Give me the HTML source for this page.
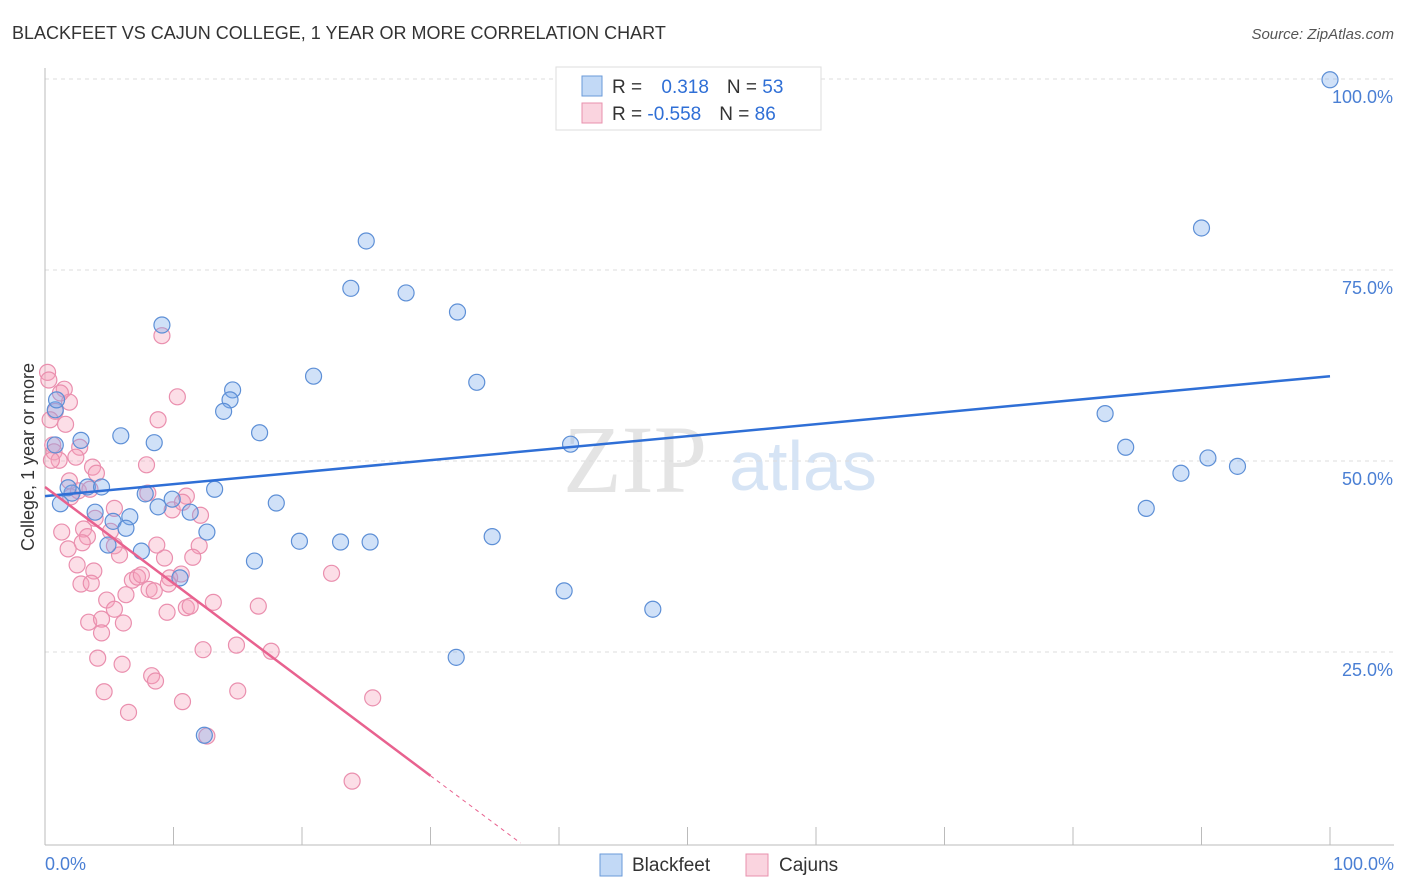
<!DOCTYPE html>
<html><head><meta charset="utf-8"><style>
body{margin:0;background:#fff;font-family:"Liberation Sans",sans-serif;}
#wrap{position:relative;width:1406px;height:892px;overflow:hidden;}
</style></head><body>
<div id="wrap">
<svg id="svg" width="1406" height="892" xmlns="http://www.w3.org/2000/svg">
<text x="12" y="39" font-size="18" fill="#333">BLACKFEET VS CAJUN COLLEGE, 1 YEAR OR MORE CORRELATION CHART</text>
<text x="1394" y="39" font-size="15" fill="#555" font-style="italic" text-anchor="end">Source: ZipAtlas.com</text>
<text x="635" y="492" font-size="96" fill="#e4e4e4" font-family="Liberation Serif,serif" text-anchor="middle">ZIP</text>
<text x="803" y="490" font-size="70" fill="#d6e4f5" text-anchor="middle">atlas</text>
<g id="grid"></g><g id="pts"></g><g id="lines"></g>
<text transform="translate(34,457) rotate(-90)" font-size="18" fill="#333" text-anchor="middle">College, 1 year or more</text>
<text x="45" y="870" font-size="18" fill="#4a7fd4">0.0%</text>
<text x="1394" y="870" font-size="18" fill="#4a7fd4" text-anchor="end">100.0%</text>
<g>
<rect x="556" y="67" width="265" height="63" fill="#fff" stroke="#ddd"/>
<rect x="582" y="76" width="20" height="20" fill="rgba(120,170,235,0.45)" stroke="#6a9ad8"/>
<rect x="582" y="103" width="20" height="20" fill="rgba(245,160,185,0.45)" stroke="#e891ad"/>
<text x="612" y="93" font-size="19" fill="#333">R = <tspan fill="#2f6fd6" dx="14">0.318</tspan><tspan fill="#333" dx="18">N = </tspan><tspan fill="#2f6fd6">53</tspan></text>
<text x="612" y="120" font-size="19" fill="#333">R = <tspan fill="#2f6fd6">-0.558</tspan><tspan fill="#333" dx="18">N = </tspan><tspan fill="#2f6fd6">86</tspan></text>
</g>
<g>
<rect x="600" y="854" width="22" height="22" fill="rgba(120,170,235,0.45)" stroke="#6a9ad8"/>
<text x="632" y="871" font-size="19" fill="#333">Blackfeet</text>
<rect x="746" y="854" width="22" height="22" fill="rgba(245,160,185,0.45)" stroke="#e891ad"/>
<text x="779" y="871" font-size="19" fill="#333">Cajuns</text>
</g>
</svg></div>
<script>
const yTicks=[25,50,75,100];
const yTickLabels=["25.0%","50.0%","75.0%","100.0%"];
const xTicks=[10,20,30,40,50,60,70,80,90,100];
const blackfeetX=[100,90.0,25.0,23.8,28.1,32.1,33.6,20.9,9.1,14.6,14.4,13.9,16.7,8.5,5.9,2.8,0.8,0.8,0.9,1.2,3.3,4.4,2.1,1.8,3.9,6.6,5.3,6.3,4.9,7.5,7.8,9.9,8.8,11.3,13.2,12.6,18.0,19.8,23.0,25.3,34.8,16.3,10.5,40.4,47.3,32.0,12.4,40.9,82.5,84.1,88.4,90.5,92.8,85.7];
const blackfeetY=[99.9,80.5,78.8,72.6,72.0,69.5,60.3,61.1,67.8,59.3,58.0,56.5,53.7,52.4,53.3,52.7,52.1,56.7,58.0,44.4,46.6,46.6,45.8,46.5,43.3,42.7,42.1,41.2,39.0,38.2,45.7,45.0,44.0,43.3,46.3,40.7,44.5,39.5,39.4,39.4,40.1,36.9,34.7,33.0,30.6,24.3,14.1,52.2,56.2,51.8,48.4,50.4,49.3,43.8];
const cajunsX=[0.2,0.3,1.5,1.9,0.8,0.4,1.6,0.6,0.7,1.1,0.5,2.7,2.4,3.7,4.0,1.9,2.0,2.6,3.5,3.9,5.4,1.3,3.0,3.3,1.8,2.9,5.1,5.4,5.8,2.5,3.8,2.8,3.6,4.8,5.4,6.3,6.8,7.2,7.5,8.1,8.5,9.3,8.7,8.0,11.0,9.9,12.1,12.0,11.5,10.6,9.7,11.0,11.3,13.1,3.4,4.4,4.4,6.1,9.5,4.1,6.0,8.3,8.6,4.6,6.5,10.7,12.3,14.9,16.6,17.6,22.3,15.0,25.5,23.9,12.6,9.1,10.3,8.8,7.9,1.2,9.6,10.7];
const cajunsY=[61.6,60.6,59.4,57.7,56.5,55.4,54.8,52.1,51.2,50.1,50.1,51.8,50.5,49.2,48.4,47.4,45.3,46.1,46.3,42.5,43.8,40.7,41.1,40.1,38.5,39.3,40.8,38.9,37.7,36.4,35.6,33.9,34.0,31.8,30.6,32.5,34.4,34.8,35.1,33.2,33.0,37.3,39.0,45.8,45.4,43.6,42.9,38.9,37.4,35.2,34.7,30.8,31.0,31.5,28.9,29.3,27.5,28.8,30.2,24.2,23.4,21.9,21.2,19.8,17.1,18.5,25.3,25.9,31.0,25.1,35.3,19.9,19.0,8.1,14.0,66.4,58.4,55.4,49.5,58.9,33.9,44.6];
const blueTrend=[45.4,61.1];      // y at x=0, x=100
const pinkTrend=[46.6,-1.26,30,37]; // intercept, slope, solid end, dashed end
const NS="http://www.w3.org/2000/svg";
const X0=45,X1=1330,Y0=843,Y100=79;
const sx=v=>X0+(X1-X0)*v/100, sy=v=>Y0-(Y0-Y100)*v/100;
function mk(t,a,p){const e=document.createElementNS(NS,t);for(const k in a)e.setAttribute(k,a[k]);p.appendChild(e);return e;}
const grid=document.getElementById('grid');
yTicks.forEach((t,i)=>{
 const l=mk('line',{x1:X0,x2:1394,y1:sy(t),y2:sy(t),stroke:'#ddd','stroke-dasharray':'4,4'},grid);
 
 
 const tx=mk('text',{x:1393,y:sy(t)+24,'font-size':18,fill:'#4a7fd4','text-anchor':'end'},grid);
 tx.textContent=yTickLabels[i];
 
 
});
const ya=mk('line',{x1:X0,x2:X0,y1:68,y2:Y0+2,stroke:'#bbb'},grid);


const xa=mk('line',{x1:X0,x2:1394,y1:Y0+2,y2:Y0+2,stroke:'#bbb'},grid);


xTicks.forEach(t=>{
 const l=mk('line',{x1:sx(t),x2:sx(t),y1:Y0-16,y2:Y0+2,stroke:'#bbb'},grid);
 
 
});
const pts=document.getElementById('pts');
cajunsX.forEach((x,i)=>{
 const c=mk('circle',{cx:sx(x),cy:sy(cajunsY[i]),r:8,fill:'rgba(245,160,185,0.35)',stroke:'#ea8fae','stroke-width':1.2},pts);
 
 
});
blackfeetX.forEach((x,i)=>{
 const c=mk('circle',{cx:sx(x),cy:sy(blackfeetY[i]),r:8,fill:'rgba(120,170,235,0.35)',stroke:'#5d8fd6','stroke-width':1.2},pts);
 
 
});
const lines=document.getElementById('lines');
const bl=mk('line',{x1:sx(0),y1:sy(blueTrend[0]),x2:sx(100),y2:sy(blueTrend[1]),stroke:'#2f6fd6','stroke-width':2.5},lines);


const pf=x=>pinkTrend[0]+pinkTrend[1]*x;
const pl=mk('line',{x1:sx(0),y1:sy(pf(0)),x2:sx(pinkTrend[2]),y2:sy(pf(pinkTrend[2])),stroke:'#e8628f','stroke-width':2.5},lines);


const pd=mk('line',{x1:sx(pinkTrend[2]),y1:sy(pf(pinkTrend[2])),x2:sx(pinkTrend[3]),y2:sy(Math.max(0,pf(pinkTrend[3]))),stroke:'#e8628f','stroke-width':1,'stroke-dasharray':'4,4'},lines);


</script>
</body></html>
